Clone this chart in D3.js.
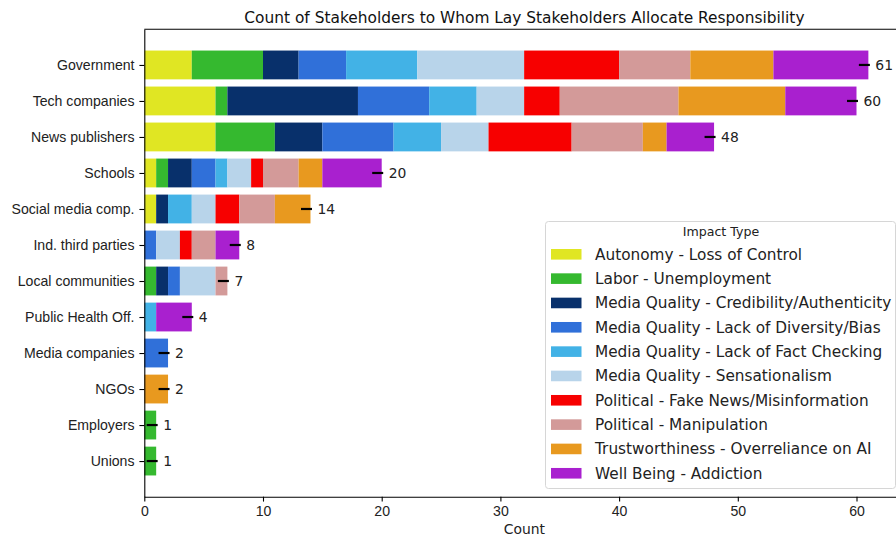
<!DOCTYPE html>
<html>
<head>
<meta charset="utf-8">
<script src="https://cdn.jsdelivr.net/npm/d3@7"></script>
<style>
  body { margin: 0; background: #fff; }
  svg { display: block; font-family: "DejaVu Sans", sans-serif; }
  .axis path, .axis line { stroke: #000; stroke-width: 1.1; }
  .axis text { font-size: 14.1px; fill: #222; }
</style>
</head>
<body>
<div id="chart"></div>
<script>
// Stakeholders, top to bottom
const categories = ['Government', 'Tech companies', 'News publishers', 'Schools', 'Social media comp.',
    'Ind. third parties', 'Local communities', 'Public Health Off.', 'Media companies', 'NGOs',
    'Employers', 'Unions'];

const impactTypes = ['Autonomy - Loss of Control', 'Labor - Unemployment',
    'Media Quality - Credibility/Authenticity', 'Media Quality - Lack of Diversity/Bias',
    'Media Quality - Lack of Fact Checking', 'Media Quality - Sensationalism',
    'Political - Fake News/Misinformation', 'Political - Manipulation',
    'Trustworthiness - Overreliance on AI', 'Well Being - Addiction'];

const impactColors = ['#e0e623', '#35b92f', '#08306b', '#3070d9', '#42b2e6',
    '#b8d4ea', '#f70000', '#d39a99', '#e8991f', '#a920cf'];

// counts per impact type, in the order of categories
const autonomy   = [4, 6, 6, 1, 1, 0, 0, 0, 0, 0, 0, 0];
const labor      = [6, 1, 5, 1, 0, 0, 1, 0, 0, 0, 1, 1];
const credibility = [3, 11, 4, 2, 1, 0, 1, 0, 0, 0, 0, 0];
const diversity  = [4, 6, 6, 2, 0, 1, 1, 0, 2, 0, 0, 0];
const factCheck  = [6, 4, 4, 1, 2, 0, 0, 1, 0, 0, 0, 0];
const sensation  = [9, 4, 4, 2, 2, 2, 3, 0, 0, 0, 0, 0];
const fakeNews   = [8, 3, 7, 1, 2, 1, 0, 0, 0, 0, 0, 0];
const manipulation = [6, 10, 6, 3, 3, 2, 1, 0, 0, 0, 0, 0];
const overreliance = [7, 9, 2, 2, 3, 0, 0, 0, 0, 2, 0, 0];
const addiction  = [8, 6, 4, 5, 0, 2, 0, 3, 0, 0, 0, 0];

const xTicks = [0, 10, 20, 30, 40, 50, 60];

const series = [autonomy, labor, credibility, diversity, factCheck, sensation,
    fakeNews, manipulation, overreliance, addiction];

const rows = categories.map((c, i) => {
    const r = { name: c, idx: i };
    impactTypes.forEach((t, k) => { r[t] = series[k][i]; });
    r.total = d3.sum(series, s => s[i]);
    return r;
});

const width = 896, height = 539;
const plotLeft = 144.3, plotTop = 29.3, plotBottom = 496.7;

const svg = d3.select('#chart').append('svg')
    .attr('width', width)
    .attr('height', height);

// matplotlib-like limits: x from 0 with 5% margin, y with 5% margin
const xMax = d3.max(rows, d => d.total) * 1.05;
const x = d3.scaleLinear().domain([0, xMax]).range([plotLeft, plotLeft + xMax * 11.87]);
const n = categories.length;
const pad = (n - 1 + 0.8) * 0.05;
const y = d3.scaleLinear().domain([-0.4 - pad, n - 1 + 0.4 + pad]).range([plotTop, plotBottom]);

const stacked = d3.stack().keys(impactTypes)(rows);

// Barras apiladas
svg.append('g').selectAll('g')
    .data(stacked)
    .enter()
    .append('g')
    .attr('fill', (d, k) => impactColors[k])
    .selectAll('rect')
    .data(d => d.filter(s => s[1] > s[0]))
    .enter()
    .append('rect')
    .attr('x', s => x(s[0]))
    .attr('width', s => x(s[1]) - x(s[0]))
    .attr('y', s => y(s.data.idx - 0.4))
    .attr('height', s => y(s.data.idx + 0.4) - y(s.data.idx - 0.4));

// Marcas de total
svg.append('g').selectAll('line')
    .data(rows)
    .enter()
    .append('line')
    .attr('x1', d => x(d.total) - 9.5)
    .attr('x2', d => x(d.total) + 1.5)
    .attr('y1', d => y(d.idx))
    .attr('y2', d => y(d.idx))
    .attr('stroke', '#000')
    .attr('stroke-width', 2.2);

svg.append('g').selectAll('text')
    .data(rows)
    .enter()
    .append('text')
    .attr('x', d => x(d.total) + 7)
    .attr('y', d => y(d.idx))
    .attr('dy', '0.36em')
    .attr('font-size', '13.9px')
    .attr('fill', '#222')
    .text(d => d.total);

// Ejes
svg.append('g')
    .attr('class', 'axis')
    .attr('transform', `translate(0,${plotBottom})`)
    .call(d3.axisBottom(x).tickValues(xTicks).tickSize(4.9).tickPadding(4.9).tickSizeOuter(0))
    .call(g => g.selectAll('text').attr('dy', '0.71em'));

svg.append('g')
    .attr('class', 'axis')
    .attr('transform', `translate(${plotLeft},0)`)
    .call(d3.axisLeft(y).tickValues(d3.range(n)).tickFormat(i => categories[i])
        .tickSize(4.9).tickPadding(4.9).tickSizeOuter(0));

// top spine
svg.append('line')
    .attr('x1', plotLeft).attr('x2', x(xMax))
    .attr('y1', plotTop).attr('y2', plotTop)
    .attr('stroke', '#000').attr('stroke-width', 1.1);

svg.append('text')
    .attr('x', (plotLeft + x(xMax)) / 2)
    .attr('y', 22.5)
    .attr('text-anchor', 'middle')
    .attr('font-size', '15.4px')
    .attr('fill', '#111')
    .text('Count of Stakeholders to Whom Lay Stakeholders Allocate Responsibility');

svg.append('text')
    .attr('x', (plotLeft + x(xMax)) / 2)
    .attr('y', 534)
    .attr('text-anchor', 'middle')
    .attr('font-size', '13.9px')
    .attr('fill', '#222')
    .text('Count');

// Leyenda
const legend = svg.append('g');
legend.append('rect')
    .attr('x', 545.5).attr('y', 221.5)
    .attr('width', 350).attr('height', 267)
    .attr('rx', 3)
    .attr('fill', '#fff').attr('fill-opacity', 0.85)
    .attr('stroke', '#d6d6d6');

legend.append('text')
    .attr('x', 721).attr('y', 231.7)
    .attr('dy', '0.36em')
    .attr('text-anchor', 'middle')
    .attr('font-size', '12.6px')
    .attr('fill', '#222')
    .text('Impact Type');

const item = legend.selectAll('g.item')
    .data(impactTypes)
    .enter()
    .append('g')
    .attr('class', 'item')
    .attr('transform', (d, k) => `translate(0,${254.3 + k * 24.33})`);

item.append('rect')
    .attr('x', 551).attr('y', -5.3)
    .attr('width', 30.5).attr('height', 10.6)
    .attr('fill', (d, k) => impactColors[k]);

item.append('text')
    .attr('x', 595)
    .attr('dy', '0.36em')
    .attr('font-size', '15.3px')
    .attr('fill', '#222')
    .text(d => d);
</script>
</body>
</html>
